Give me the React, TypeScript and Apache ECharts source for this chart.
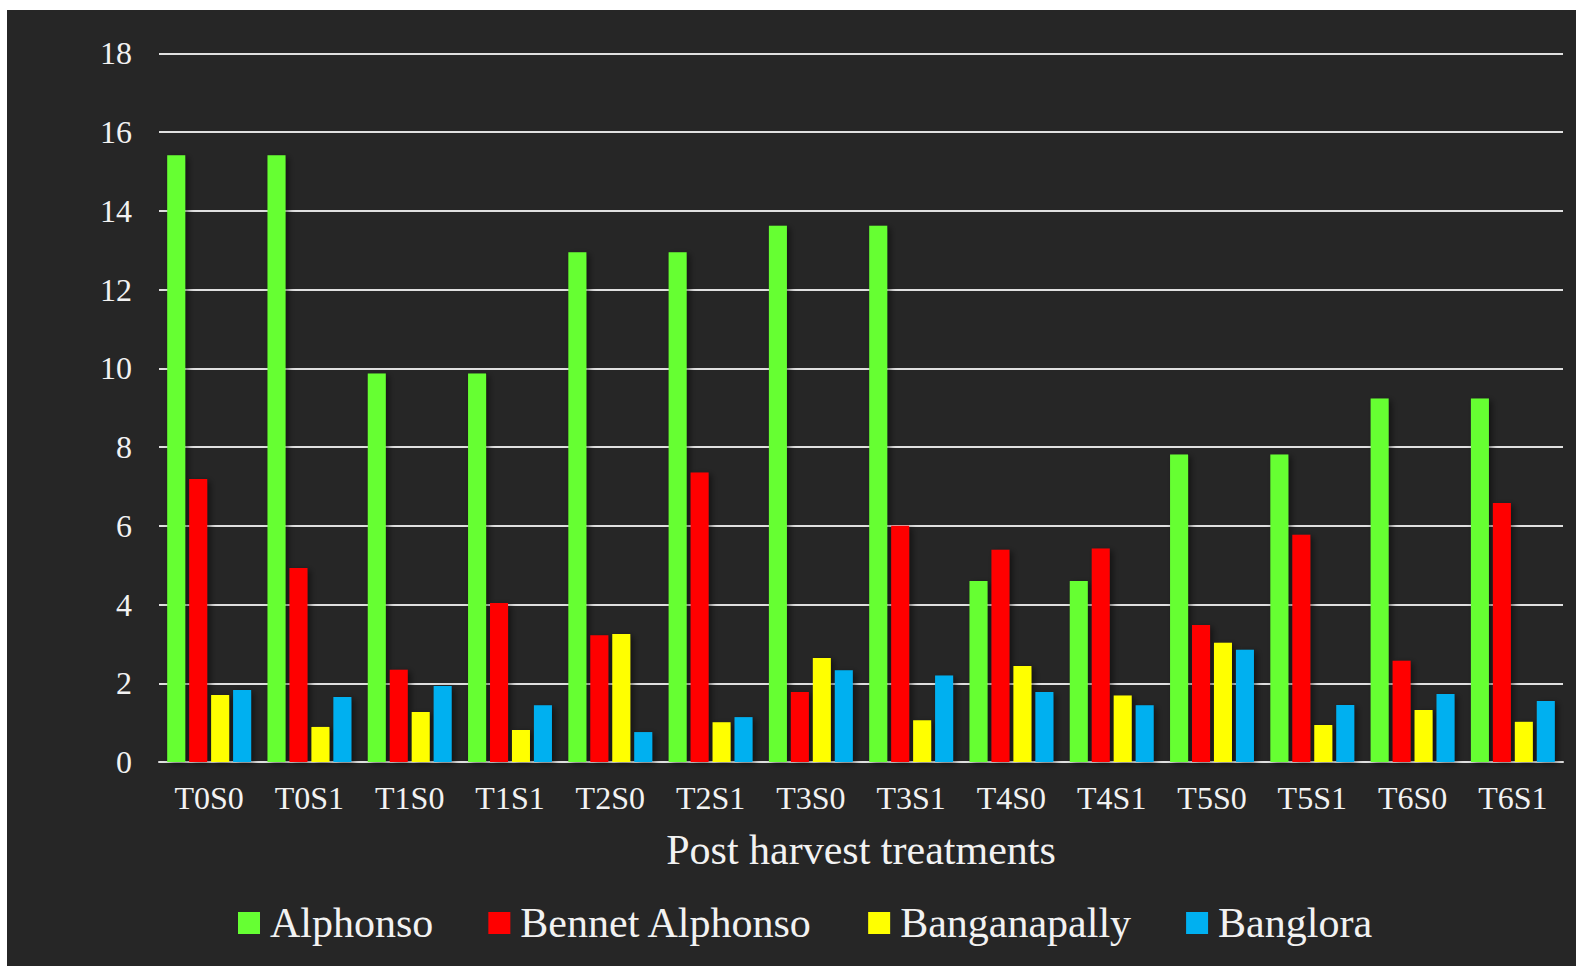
import React, { useEffect, useRef } from "react";
import * as echarts from "echarts";

const categories = ["T0S0", "T0S1", "T1S0", "T1S1", "T2S0", "T2S1", "T3S0", "T3S1", "T4S0", "T4S1", "T5S0", "T5S1", "T6S0", "T6S1"];
const seriesNames = ["Alphonso", "Bennet Alphonso", "Banganapally", "Banglora"];
const alphonso = [15.41, 15.41, 9.87, 9.87, 12.95, 12.95, 13.62, 13.62, 4.6, 4.6, 7.81, 7.81, 9.23, 9.23];
const bennetAlphonso = [7.19, 4.93, 2.34, 4.04, 3.22, 7.35, 1.78, 6.0, 5.39, 5.42, 3.48, 5.77, 2.57, 6.58];
const banganapally = [1.7, 0.89, 1.27, 0.81, 3.25, 1.01, 2.64, 1.06, 2.44, 1.69, 3.03, 0.94, 1.32, 1.02];
const banglora = [1.83, 1.65, 1.93, 1.44, 0.76, 1.14, 2.33, 2.2, 1.78, 1.44, 2.85, 1.45, 1.73, 1.55];
const seriesValues = [alphonso, bennetAlphonso, banganapally, banglora];
const colors = ["#66FF33", "#FF0000", "#FFFF00", "#00B0F0"];

export default function App() {
  const ref = useRef<HTMLDivElement>(null);
  useEffect(() => {
    if (!ref.current) return;
    const chart = echarts.init(ref.current, null, { renderer: "svg" });
    const font = "'Liberation Serif', 'Times New Roman', serif";
    chart.setOption({
      animation: false,
      backgroundColor: "#262626",
      textStyle: { fontFamily: font },
      grid: { left: 152, right: 13, top: 43.3, bottom: 204, containLabel: false },
      legend: {
        left: 226,
        top: 887,
        icon: "rect",
        itemWidth: 22,
        itemHeight: 22,
        itemGap: 55,
        textStyle: { color: "#f2f2f2", fontSize: 42, fontFamily: font, padding: [0, 0, 0, 5] },
        data: seriesNames,
      },
      xAxis: {
        type: "category",
        data: categories,
        axisTick: { show: false },
        axisLine: { lineStyle: { color: "#e0e0e0", width: 2 } },
        axisLabel: { color: "#f2f2f2", fontSize: 32, fontFamily: font, margin: 20, interval: 0 },
        name: "Post harvest treatments",
        nameLocation: "middle",
        nameGap: 67,
        nameTextStyle: { color: "#f2f2f2", fontSize: 42, fontFamily: font },
      },
      yAxis: {
        type: "value",
        min: 0,
        max: 18,
        interval: 2,
        axisLine: { show: false },
        axisTick: { show: false },
        axisLabel: { color: "#f2f2f2", fontSize: 32, fontFamily: font, margin: 27 },
        splitLine: { show: true, lineStyle: { color: "#e0e0e0", width: 2 } },
      },
      series: seriesNames.map((name, i) => ({
        name,
        type: "bar",
        data: seriesValues[i],
        barWidth: 18,
        barGap: "22%",
        itemStyle: {
          color: colors[i],
          shadowColor: "rgba(0,0,0,0.5)",
          shadowBlur: 6,
          shadowOffsetX: 3,
          shadowOffsetY: 2,
        },
      })),
    });
    return () => chart.dispose();
  }, []);
  return (
    <div
      ref={ref}
      style={{ position: "absolute", left: 7, top: 10, width: 1569, height: 956 }}
    />
  );
}
